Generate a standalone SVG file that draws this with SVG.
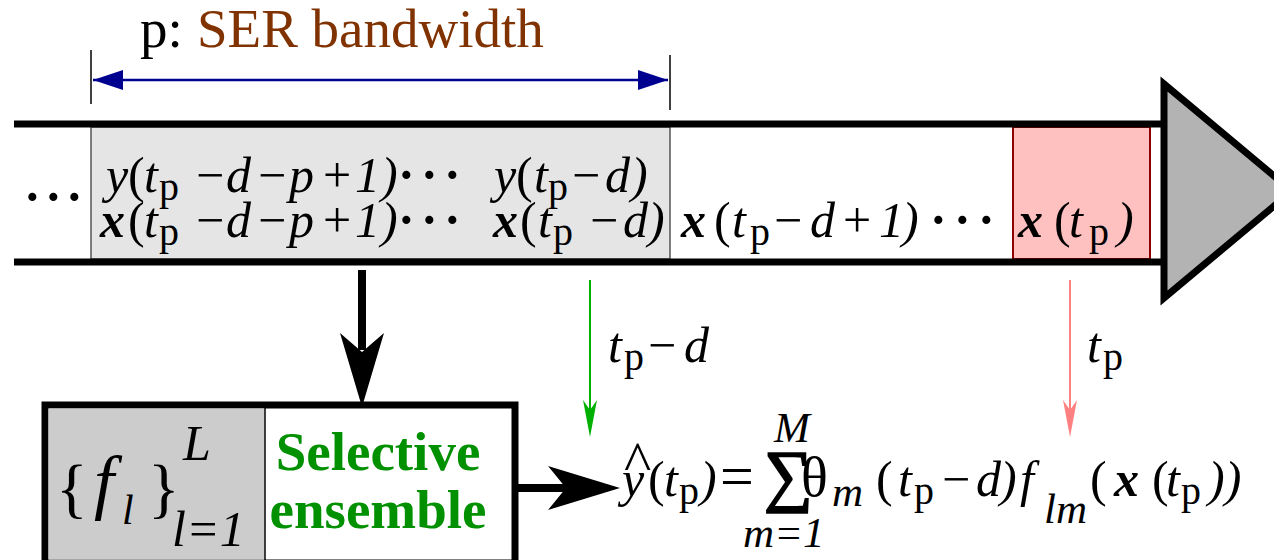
<svg xmlns="http://www.w3.org/2000/svg" width="1274" height="560" viewBox="0 0 1274 560">
<defs>
<style>
.t{font-family:"Liberation Serif",serif;font-size:50px;fill:#000}
.i{font-style:italic}
.b{font-weight:bold}
.s{font-size:40px;font-style:normal}
.sm{font-size:43px;font-style:italic}
.ttl{font-size:55px}
.g{fill:#009000;font-weight:bold;font-size:55px}
.br{fill:#803300}
.br60{font-size:66px}
.sig{font-size:68px;stroke:#000;stroke-width:2px}
.dot{font-weight:bold}
</style>
<marker id="bl" viewBox="0 0 30 20" refX="0" refY="10" markerWidth="30" markerHeight="20" markerUnits="userSpaceOnUse" orient="auto"><path d="M0,10 L30,0 L30,20 Z" fill="#000090"/></marker>
<marker id="br2" viewBox="0 0 30 20" refX="30" refY="10" markerWidth="30" markerHeight="20" markerUnits="userSpaceOnUse" orient="auto"><path d="M0,0 L30,10 L0,20 Z" fill="#000090"/></marker>
</defs>
<g id="bandwidth">
<line x1="91" y1="50" x2="91" y2="104" stroke="#000" stroke-width="1.5"/>
<line x1="670" y1="55" x2="670" y2="110" stroke="#000" stroke-width="1.5"/>
<line x1="93" y1="80" x2="668" y2="80" stroke="#000090" stroke-width="2.5" marker-start="url(#bl)" marker-end="url(#br2)"/>
<text class="t ttl" x="140" y="47">p: <tspan class="br" x="197">SER bandwidth</tspan></text>
</g>
<g id="tape">
<rect x="91" y="127" width="579" height="132" fill="#e5e5e5" stroke="#555" stroke-width="1.5"/>
<rect x="1013" y="127" width="137" height="132" fill="#ffc0c0" stroke="#8b0000" stroke-width="2"/>
<line x1="14" y1="124" x2="1166" y2="124" stroke="#000" stroke-width="7"/>
<line x1="14" y1="262" x2="1166" y2="262" stroke="#000" stroke-width="7"/>
<polygon points="1164,84 1292,191 1164,298" fill="#b3b3b3" stroke="#000" stroke-width="7"/>
<text class="t dot" x="24 45 66" y="214">···</text>
<text class="t" y="192"><tspan class="i" x="106">y</tspan><tspan x="128">(</tspan><tspan class="i" x="144">t</tspan><tspan class="s" x="159" y="200">p</tspan><tspan x="196" y="192">−</tspan><tspan class="i" x="226">d</tspan><tspan x="258">−</tspan><tspan class="i" x="289">p</tspan><tspan x="323">+</tspan><tspan class="i" x="355">1</tspan><tspan class="i" x="381">)</tspan><tspan class="dot" x="398 421 444">···</tspan></text>
<text class="t" y="192"><tspan class="i" x="494">y</tspan><tspan x="516">(</tspan><tspan class="i" x="534">t</tspan><tspan class="s" x="548" y="200">p</tspan><tspan x="572" y="192">−</tspan><tspan class="i" x="605">d</tspan><tspan class="i" x="631">)</tspan></text>
<text class="t" y="237"><tspan class="i b" x="493">x</tspan><tspan x="520">(</tspan><tspan class="i" x="538">t</tspan><tspan class="s" x="553" y="245">p</tspan><tspan x="590" y="237">−</tspan><tspan class="i" x="623">d</tspan><tspan class="i" x="648">)</tspan></text>
<text class="t" y="237"><tspan class="i b" x="100">x</tspan><tspan x="128">(</tspan><tspan class="i" x="144">t</tspan><tspan class="s" x="159" y="245">p</tspan><tspan x="196" y="237">−</tspan><tspan class="i" x="226">d</tspan><tspan x="258">−</tspan><tspan class="i" x="289">p</tspan><tspan x="323">+</tspan><tspan class="i" x="355">1</tspan><tspan class="i" x="381">)</tspan><tspan class="dot" x="398 421 444">···</tspan></text>
<text class="t" y="237"><tspan class="i b" x="681">x</tspan><tspan x="714">(</tspan><tspan class="i" x="732">t</tspan><tspan class="s" x="750" y="245">p</tspan><tspan x="774" y="237">−</tspan><tspan class="i" x="810">d</tspan><tspan x="843">+</tspan><tspan class="i" x="879">1</tspan><tspan class="i" x="902">)</tspan><tspan class="dot" x="930 954 978">···</tspan></text>
<text class="t" y="237"><tspan class="i b" x="1018">x</tspan><tspan x="1054">(</tspan><tspan class="i" x="1069">t</tspan><tspan class="s" x="1089" y="245">p</tspan><tspan class="i" x="1117" y="237">)</tspan></text>
</g>
<g id="ensemble-box">
<rect x="45" y="405" width="470" height="158" fill="#fff" stroke="#000" stroke-width="7"/>
<rect x="48.5" y="408.5" width="216" height="151" fill="#cccccc"/>
<line x1="265" y1="408" x2="265" y2="560" stroke="#000" stroke-width="1.5"/>
<text class="t"><tspan class="br60" x="56" y="510">{</tspan><tspan class="i" x="94" y="506" style="font-size:72px">f</tspan><tspan class="i" x="122" y="524" style="font-size:42px">l</tspan><tspan class="br60" x="148" y="510">}</tspan><tspan class="i" x="183" y="460">L</tspan><tspan class="i" x="172" y="546">l=1</tspan></text>
<text class="t g" x="378" y="470" text-anchor="middle">Selective</text>
<text class="t g" x="378" y="528" text-anchor="middle">ensemble</text>
</g>
<g id="formula">
<text class="t"><tspan x="624" y="481" style="font-size:58px">^</tspan><tspan class="i" x="622" y="496">y</tspan><tspan x="648">(</tspan><tspan class="i" x="664">t</tspan><tspan class="s" x="679" y="504">p</tspan><tspan class="i" x="700" y="496">)</tspan><tspan x="720" style="font-size:60px">=</tspan><tspan class="sig" x="764" y="498">∑</tspan><tspan class="sm" x="774" y="442">M</tspan><tspan class="sm" x="743" y="547">m=1</tspan><tspan x="801" y="496" style="font-size:56px">θ</tspan><tspan class="sm" x="832" y="506">m</tspan><tspan x="876" y="496">(</tspan><tspan class="i" x="898">t</tspan><tspan class="s" x="914" y="504">p</tspan><tspan x="942" y="496">−</tspan><tspan class="i" x="976">d</tspan><tspan class="i" x="1000">)</tspan><tspan class="i" x="1020">f</tspan><tspan class="sm" x="1044" y="523">lm</tspan><tspan x="1090" y="496">(</tspan><tspan class="i b" x="1114">x</tspan><tspan x="1152">(</tspan><tspan class="i" x="1166">t</tspan><tspan class="s" x="1181" y="504">p</tspan><tspan class="i" x="1208" y="496">))</tspan></text>
<text class="t"><tspan class="i" x="608" y="362">t</tspan><tspan class="s" x="624" y="370">p</tspan><tspan x="648" y="362">−</tspan><tspan class="i" x="684">d</tspan></text>
<text class="t"><tspan class="i" x="1087" y="362">t</tspan><tspan class="s" x="1103" y="370">p</tspan></text>
</g>
<g id="connectors">
<line x1="362" y1="270" x2="362" y2="350" stroke="#000" stroke-width="8"/>
<path d="M362,407 L340,333 L362,352 L384,333 Z" fill="#000"/>
<line x1="515" y1="488" x2="570" y2="488" stroke="#000" stroke-width="8"/>
<path d="M620,488 L548,466 L566,488 L548,510 Z" fill="#000"/>
<line x1="590" y1="280" x2="590" y2="420" stroke="#00b000" stroke-width="2"/>
<path d="M590,437 L583,400 L590,410 L597,400 Z" fill="#00b000"/>
<line x1="1070" y1="280" x2="1070" y2="420" stroke="#ff8080" stroke-width="2"/>
<path d="M1070,437 L1063,400 L1070,410 L1077,400 Z" fill="#ff8080"/>
</g>
</svg>
